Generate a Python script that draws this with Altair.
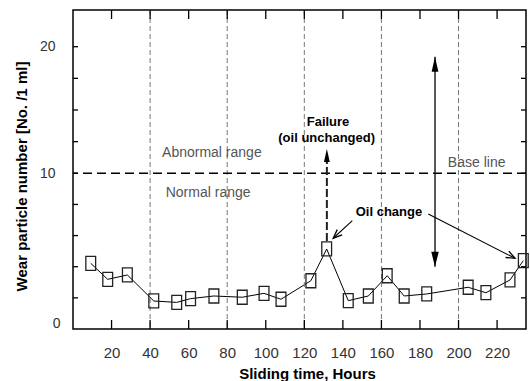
import math
import altair as alt
import pandas as pd

# ---- data ----
hours = [9.2, 18.0, 28.2, 41.9, 53.8, 61.0, 73.1, 87.8, 99.1, 107.9, 123.4,
         131.6, 142.8, 153.2, 163.0, 171.8, 183.5, 205.0, 214.2, 226.7, 233.6]
particles = [4.22, 3.19, 3.47, 1.80, 1.71, 1.95, 2.12, 2.04, 2.29, 1.91, 3.10,
             5.14, 1.82, 2.12, 3.42, 2.12, 2.25, 2.68, 2.33, 3.15, 4.39]

x_tick_values = [20, 40, 60, 80, 100, 120, 140, 160, 180, 200, 220]
y_tick_values = [2, 4, 6, 8, 10, 12.5, 15, 17.5, 20]
y_label_values = [0, 10, 20]
region_lines = [40, 80, 120, 160, 200]
base_value = [10]

range_texts = ["Abnormal range", "Normal range"]
range_text_x = [46.2, 48.1]
range_text_y = [11.6, 8.75]

base_text = ["Base line"]
base_text_x = [209.4]
base_text_y = [10.8]

bold_texts = ["Failure", "(oil unchanged)", "Oil change"]
bold_text_x = [132.3, 131.6, 163.9]
bold_text_y = [14.08, 12.81, 7.49]

failure_x = [131.7]
failure_y_from = [5.65]
failure_y_base = [10.9]
failure_y_tip = [11.92]

span_x = [187.8]
span_y_bottom = [4.0]
span_y_top = [19.21]

oil_x_from = [144.9, 184.3]
oil_y_from = [6.96, 7.39]
oil_x_to = [135.0, 229.3]
oil_y_to = [5.83, 4.54]

# ---- layout ----
W, H = 453, 319
FONT = "Liberation Sans"
XMAX = 235
xs = alt.Scale(domain=[0, XMAX], nice=False, zero=False)
ys = alt.Scale(domain=[0, 10, 20, 22.9], range=[H, 163.3, 36.7, 0], nice=False, zero=False)

XA = alt.Axis(values=x_tick_values, domain=False, ticks=False, tickSize=0,
              grid=False, labelPadding=16, labelFont=FONT, labelFontSize=15,
              labelColor="#333", titleFont=FONT, titleFontSize=15,
              titleFontWeight="bold", titleColor="black",
              titleX=234, titleY=44, titleBaseline="middle", titleAlign="center")
YA = alt.Axis(values=y_label_values, domain=False, ticks=False, tickSize=0,
              grid=False, labelFont=FONT, labelFontSize=14, labelColor="#333",
              labelPadding={"condition": {"test": "datum.value == 0", "value": 13}, "value": 18},
              labelOffset={"condition": {"test": "datum.value == 0", "value": -6}, "value": 0},
              titleFont=FONT, titleFontSize=15, titleFontWeight="bold",
              titleColor="black", titleAngle=270, titleX=-52, titleY=166,
              titleAlign="center", titleBaseline="middle")
XT = "Sliding time, Hours"
YT = "Wear particle number [No. /1 ml]"


def X(f):
    return alt.X(f, scale=xs, axis=XA, title=XT)


def Y(f):
    return alt.Y(f, scale=ys, axis=YA, title=YT)


px_per_x = W / XMAX
px_per_y = (H - 163.3) / 10
oil_angles = [math.degrees(math.atan2(-(y2 - y1) * px_per_y, (x2 - x1) * px_per_x))
              for x1, y1, x2, y2 in zip(oil_x_from, oil_y_from, oil_x_to, oil_y_to)]

main = pd.DataFrame({"hours": hours, "particles": particles})
base = alt.Chart(main)

line = base.mark_line(color="black", strokeWidth=1).encode(
    x=X("hours:Q"), y=Y("particles:Q"))

rect_shape = "M-0.7,-1L0.7,-1L0.7,1L-0.7,1Z"
points = base.mark_point(shape=rect_shape, size=196, filled=False, stroke="#222",
                         strokeWidth=1.3, opacity=1).encode(
    x=X("hours:Q"), y=Y("particles:Q"))

vlines = alt.Chart(pd.DataFrame({"h": region_lines})).mark_rule(
    color="#777", strokeWidth=1, strokeDash=[5, 3]).encode(x=X("h:Q"))

hline = alt.Chart(pd.DataFrame({"v": base_value})).mark_rule(
    color="black", strokeWidth=1.6, strokeDash=[9, 5]).encode(y=Y("v:Q"))

range_lbl = alt.Chart(pd.DataFrame({"t": range_texts, "x": range_text_x, "y": range_text_y})).mark_text(
    align="left", baseline="middle", font=FONT, fontSize=14, color="#555").encode(
    x=X("x:Q"), y=Y("y:Q"), text="t:N")

base_lbl = alt.Chart(pd.DataFrame({"t": base_text, "x": base_text_x, "y": base_text_y})).mark_text(
    align="center", baseline="middle", font=FONT, fontSize=14, color="#555").encode(
    x=X("x:Q"), y=Y("y:Q"), text="t:N")

bold_lbl = alt.Chart(pd.DataFrame({"t": bold_texts, "x": bold_text_x, "y": bold_text_y})).mark_text(
    align="center", baseline="middle", font=FONT, fontSize=13, fontWeight="bold", color="black").encode(
    x=X("x:Q"), y=Y("y:Q"), text="t:N")

fail_df = pd.DataFrame({"x": failure_x, "y1": failure_y_from, "y2": failure_y_base, "tip": failure_y_tip})
fail_rule = alt.Chart(fail_df).mark_rule(color="#222", strokeWidth=2, strokeDash=[8, 3]).encode(
    x=X("x:Q"), y=Y("y1:Q"), y2="y2:Q")
up_head = "M0,0L0.45,2L-0.45,2Z"
down_head = "M0,0L0.5,-2L-0.5,-2Z"
fail_head = alt.Chart(fail_df).mark_point(shape=up_head, size=169, filled=True, color="black",
                                          opacity=1).encode(x=X("x:Q"), y=Y("tip:Q"))

span_df = pd.DataFrame({"x": span_x, "lo": span_y_bottom, "hi": span_y_top})
span_rule = alt.Chart(span_df).mark_rule(color="black", strokeWidth=1.3).encode(
    x=X("x:Q"), y=Y("lo:Q"), y2="hi:Q")
span_top = alt.Chart(span_df).mark_point(shape=up_head, size=225, filled=True, color="black",
                                         opacity=1).encode(x=X("x:Q"), y=Y("hi:Q"))
span_bot = alt.Chart(span_df).mark_point(shape=down_head, size=225, filled=True, color="black",
                                         opacity=1).encode(x=X("x:Q"), y=Y("lo:Q"))

oil_df = pd.DataFrame({"x1": oil_x_from, "y1": oil_y_from, "x2": oil_x_to, "y2": oil_y_to,
                       "ang": oil_angles})
oil_rule = alt.Chart(oil_df).mark_rule(color="black", strokeWidth=1.1).encode(
    x=X("x1:Q"), y=Y("y1:Q"), x2="x2:Q", y2="y2:Q")
v_head = "M-2.2,-0.9L0,0L-2.2,0.9"
oil_head = alt.Chart(oil_df).mark_point(shape=v_head, size=64, filled=False, stroke="black",
                                        strokeWidth=1.3, opacity=1).encode(
    x=X("x2:Q"), y=Y("y2:Q"), angle=alt.Angle("ang:Q", scale=None))

# inward tick marks on all four sides
xt = pd.DataFrame({"t": x_tick_values})
yt = pd.DataFrame({"t": y_tick_values})
xt_bottom = alt.Chart(xt).mark_rule(color="black", strokeWidth=1.3).encode(
    x=X("t:Q"), y=alt.value(H), y2=alt.value(H - 9))
xt_top = alt.Chart(xt).mark_rule(color="black", strokeWidth=1.3).encode(
    x=X("t:Q"), y=alt.value(0), y2=alt.value(9))
yt_left = alt.Chart(yt).mark_rule(color="black", strokeWidth=1.3).encode(
    y=Y("t:Q"), x=alt.value(0), x2=alt.value(5))
yt_right = alt.Chart(yt).mark_rule(color="black", strokeWidth=1.3).encode(
    y=Y("t:Q"), x=alt.value(W - 5), x2=alt.value(W))

chart = alt.layer(
    line, vlines, hline, range_lbl, base_lbl, bold_lbl,
    fail_rule, fail_head, span_rule, span_top, span_bot, oil_rule, oil_head,
    points, xt_bottom, xt_top, yt_left, yt_right,
).properties(
    width=W, height=H,
    autosize=alt.AutoSizeParams(type="none"),
    padding={"left": 73, "top": 10, "right": 4, "bottom": 52},
    background="white",
).configure_view(stroke="black", strokeWidth=1.5)

chart.save("out.html", embed_options={"renderer": "svg", "actions": False})
